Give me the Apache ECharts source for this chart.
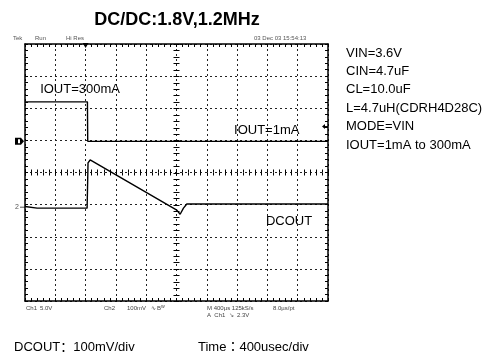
<!DOCTYPE html>
<html><head><meta charset="utf-8">
<script src="https://cdn.jsdelivr.net/npm/echarts@6/dist/echarts.min.js"></script>
<style>html,body{margin:0;padding:0;background:#fff}#c{width:487px;height:356px}</style>
</head><body><div id="c"></div>
<script>
// time axis in divisions (400us/div), vertical in divisions
const ch1Time = [0, 2.06, 2.07, 2.1, 10];
const ch1Div  = [2.2, 2.2, 0.97, 0.95, 0.97];
const ch2Time = [0, 0.4, 2.05, 2.08, 2.15, 5.01, 5.12, 5.23, 5.34, 10];
const ch2Div  = [-1.06, -1.11, -1.11, 0.3, 0.39, -1.17, -1.3, -1.11, -0.98, -0.98];
const ch1Ground = 0.97, ch2Ground = -1.08, triggerLevel = 1.43, triggerTime = 2.0;
const titleText = 'DC/DC:1.8V,1.2MHz';
const conditionLines = ['VIN=3.6V','CIN=4.7uF','CL=10.0uF','L=4.7uH(CDRH4D28C)','MODE=VIN','IOUT=1mA to 300mA'];
const traceLabels = [['IOUT=300mA', 0.5, 2.6], ['IOUT=1mA', 6.9, 1.32], ['DCOUT', 7.95, -1.51]];
const headerLabels = [['Tek', 13], ['Run', 35], ['Hi Res', 66]];
const dateLabel = '03 Dec 03 15:54:13';
const footerRow1 = [['Ch1', 26], ['5.0V', 40], ['Ch2', 104], ['100mV', 127], ['\u223F', 151], ['B\u1D42', 157], ['M 400\u00B5s 125kS/s', 207], ['8.0\u00B5s/pt', 273]];
const footerRow2 = [['A  Ch1  \u2198  2.3V', 207]];
const bottomScaleY = 'DCOUT\uFF1A100mV/div';
const bottomScaleX = 'Time\uFF1A400usec/div';

const FONT = "'Liberation Sans', Arial, sans-serif";
const chart = echarts.init(document.getElementById('c'), null, {renderer: 'canvas'});
const W = 487, H = 356;
const G = {left: 25, top: 44, right: 159, bottom: 55};
const halfH = (H - G.top - G.bottom) / 2;
const dash = {type: [2, 3], color: '#222', width: 1};
function borderAxis(extra) {
  return Object.assign({
    type: 'value', gridIndex: 0, interval: 1,
    axisLine: {show: true, onZero: false, lineStyle: {color: '#000', width: 1.5}},
    axisTick: {show: true, inside: true, length: 3, lineStyle: {color: '#000'}},
    minorTick: {show: true, splitNumber: 5, length: 3, lineStyle: {color: '#000'}},
    axisLabel: {show: false}, splitLine: {show: false}
  }, extra);
}
function centerAxis(extra, inside, gi) {
  return Object.assign({
    type: 'value', gridIndex: gi, interval: 1,
    axisLine: {show: false, onZero: false},
    axisTick: {show: true, inside: inside, length: 3, lineStyle: {color: '#000'}},
    minorTick: {show: true, splitNumber: 5, length: 3, lineStyle: {color: '#000'}},
    axisLabel: {show: false}, splitLine: {show: false}
  }, extra);
}
function hiddenAxis(extra, gi) {
  return Object.assign({type: 'value', gridIndex: gi, show: false, axisLine: {onZero: false}}, extra);
}
// vertical centre graticule tick positions (every 0.2 division)
const centreTickY = [];
for (let i = -20; i <= 20; i++) centreTickY.push(i / 5);

const option = {
  animation: false,
  backgroundColor: '#fff',
  title: {text: titleText, left: 172, top: 6, textAlign: 'center',
    textStyle: {fontFamily: FONT, fontSize: 18, fontWeight: 'bold', color: '#000'}},
  grid: [0, 1, 2].map(() => Object.assign({}, G)),
  xAxis: [
    borderAxis({min: 0, max: 10, position: 'bottom', splitLine: {show: true, lineStyle: dash}}),
    borderAxis({min: 0, max: 10, position: 'top'}),
    centerAxis({min: -5, max: 5, position: 'bottom', offset: -halfH}, true, 1),
    centerAxis({min: -5, max: 5, position: 'bottom', offset: -halfH}, false, 2)
  ],
  yAxis: [
    borderAxis({min: -4, max: 4, position: 'left', splitLine: {show: true, lineStyle: dash}}),
    borderAxis({min: -4, max: 4, position: 'right'}),
    hiddenAxis({min: -4, max: 4}, 1),
    hiddenAxis({min: -4, max: 4}, 2)
  ],
  series: [
    {type: 'custom', name: 'centreTicks', xAxisIndex: 0, yAxisIndex: 0, silent: true, z: 2,
     data: centreTickY.map(v => [5, v]),
     renderItem: (params, api) => {
       const p = api.coord([api.value(0), api.value(1)]);
       const y = Math.round(p[1]) + 0.5;
       return {type: 'line', shape: {x1: p[0] - 3, y1: y, x2: p[0] + 3, y2: y}, style: {stroke: '#000', lineWidth: 1}};
     }},
    {type: 'line', name: 'CH1', xAxisIndex: 0, yAxisIndex: 0, symbol: 'none', z: 3,
     data: ch1Time.map((t, i) => [t, ch1Div[i]]), lineStyle: {color: '#000', width: 1.4}},
    {type: 'line', name: 'CH2', xAxisIndex: 0, yAxisIndex: 0, symbol: 'none', z: 3,
     data: ch2Time.map((t, i) => [t, ch2Div[i]]), lineStyle: {color: '#000', width: 1.4}}
  ]
};
chart.setOption(option);

const px = (x, y) => chart.convertToPixel({xAxisIndex: 0, yAxisIndex: 0}, [x, y]);
const g = [];
const txt = (text, x, y, size, color, align, va, fam) => g.push({type: 'text', silent: true,
  style: {text, x, y, fill: color || '#000', font: size + 'px ' + (fam || FONT), textAlign: align || 'left', textVerticalAlign: va || 'middle'}});
const left0 = px(0, 0)[0], top0 = px(0, 4)[1], right0 = px(10, 0)[0];
conditionLines.forEach((s, i) => txt(s, 346, 53 + 18.4 * i, 13));
traceLabels.forEach(([s, x, y]) => { const p = px(x, y); txt(s, p[0], p[1], 13); });
headerLabels.forEach(([s, x]) => txt(s, x, 38, 6, '#555'));
txt(dateLabel, 254, 38, 6, '#555');
footerRow1.forEach(([s, x]) => txt(s, x, 308, 6, '#444'));
footerRow2.forEach(([s, x]) => txt(s, x, 315, 6, '#444'));
txt(bottomScaleY, 14, 347, 13, '#000', 'left', 'middle', "'Liberation Sans', 'Noto Sans CJK SC'");
txt(bottomScaleX, 198, 347, 13, '#000', 'left', 'middle', "'Liberation Sans', 'Noto Sans CJK JP'");
const g1 = px(0, ch1Ground)[1], g2 = px(0, ch2Ground)[1];
g.push({type: 'polygon', silent: true, shape: {points: [[15, g1 - 3.5], [21, g1 - 3.5], [24, g1], [21, g1 + 3.5], [15, g1 + 3.5]]}, style: {fill: '#000'}});
g.push({type: 'rect', silent: true, shape: {x: 18, y: g1 - 2, width: 2, height: 4}, style: {fill: '#fff'}});
txt('2', 19, g2, 7, '#555', 'right');
g.push({type: 'line', silent: true, shape: {x1: 20, y1: g2, x2: left0, y2: g2}, style: {stroke: '#555', lineWidth: 1}});
const tl = px(10, triggerLevel)[1];
g.push({type: 'polygon', silent: true, shape: {points: [[right0 - 6, tl], [right0 - 3, tl - 2.5], [right0 - 3, tl + 2.5]]}, style: {fill: '#000'}});
g.push({type: 'line', silent: true, shape: {x1: right0 - 4, y1: tl, x2: right0, y2: tl}, style: {stroke: '#000', lineWidth: 1}});
const tp = px(triggerTime, 0)[0];
g.push({type: 'polygon', silent: true, shape: {points: [[tp - 3, top0 - 1], [tp + 3, top0 - 1], [tp, top0 + 4]]}, style: {fill: '#000'}});
chart.setOption({graphic: g});
</script></body></html>
